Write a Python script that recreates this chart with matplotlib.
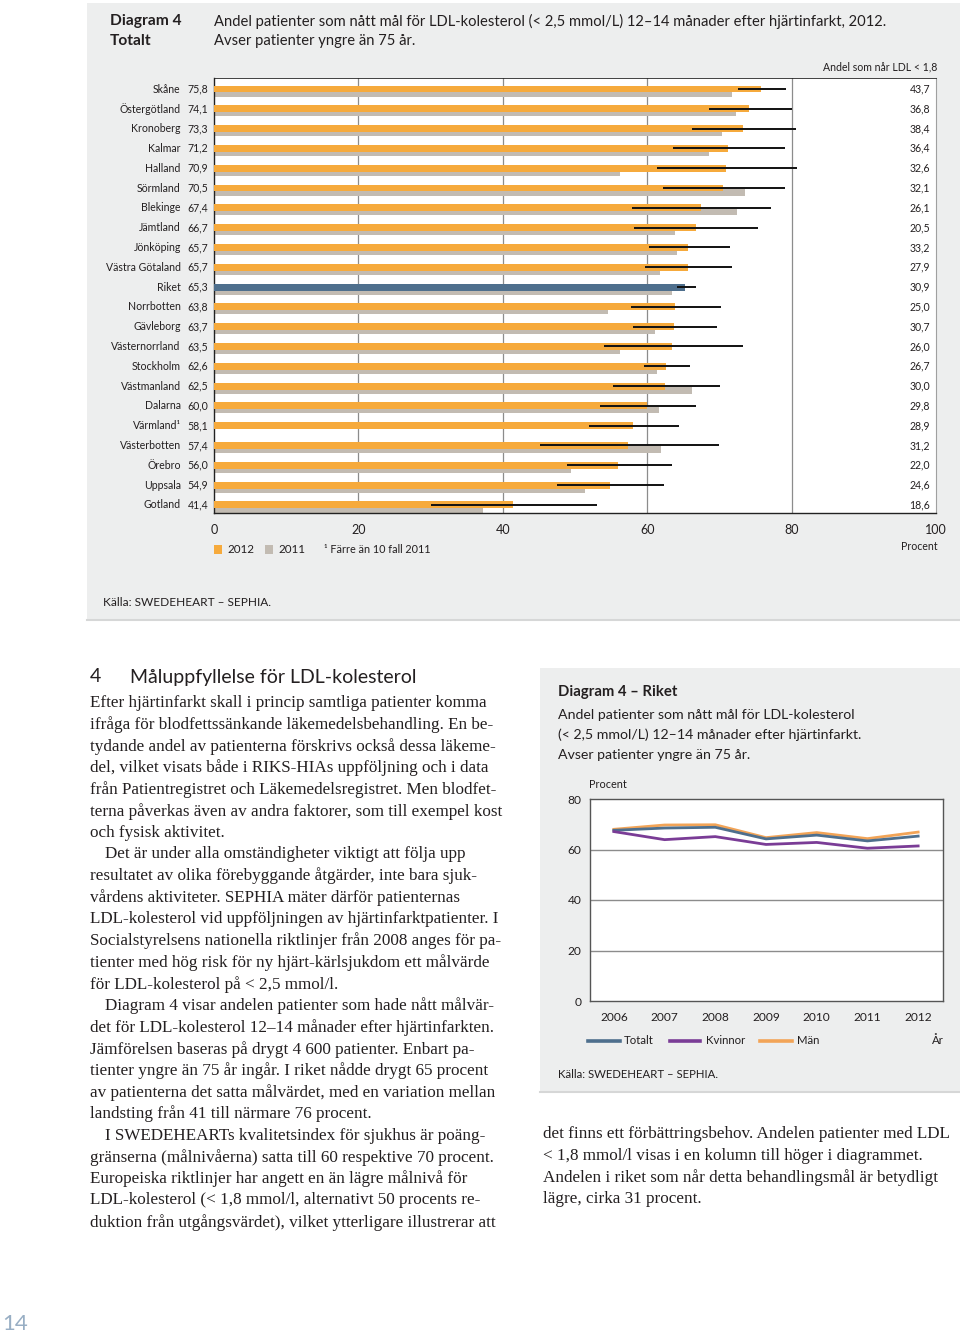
import matplotlib
matplotlib.use('Agg')
import matplotlib.pyplot as plt
from matplotlib.patches import Rectangle
from matplotlib.lines import Line2D
import numpy as np

W, H = 960, 1339

# --- data: diagram 4, totalt (2012 vs 2011) ---
regions = ['Skåne', 'Östergötland', 'Kronoberg', 'Kalmar', 'Halland', 'Sörmland',
           'Blekinge', 'Jämtland', 'Jönköping', 'Västra Götaland', 'Riket',
           'Norrbotten', 'Gävleborg', 'Västernorrland', 'Stockholm', 'Västmanland',
           'Dalarna', 'Värmland¹', 'Västerbotten', 'Örebro', 'Uppsala', 'Gotland']
v2012 = [75.8, 74.1, 73.3, 71.2, 70.9, 70.5, 67.4, 66.7, 65.7, 65.7, 65.3,
         63.8, 63.7, 63.5, 62.6, 62.5, 60.0, 58.1, 57.4, 56.0, 54.9, 41.4]
v2011 = [71.8, 72.3, 70.4, 68.6, 56.2, 73.5, 72.5, 63.8, 64.1, 61.8, 63.4,
         54.6, 61.1, 56.3, 61.3, 66.2, 61.6, np.nan, 61.9, 49.4, 51.4, 37.3]
ci_low = [72.6, 68.5, 66.2, 63.6, 61.4, 62.2, 57.9, 58.2, 60.2, 59.7, 64.1,
          57.7, 58.0, 54.0, 59.6, 55.2, 53.5, 52.0, 45.1, 48.9, 47.5, 30.0]
ci_high = [79.2, 80.0, 80.6, 79.1, 80.7, 79.1, 77.1, 75.3, 71.4, 71.8, 66.8,
           70.2, 69.6, 73.3, 65.9, 70.1, 66.7, 64.4, 69.9, 63.4, 62.3, 53.1]
ldl18 = [43.7, 36.8, 38.4, 36.4, 32.6, 32.1, 26.1, 20.5, 33.2, 27.9, 30.9,
         25.0, 30.7, 26.0, 26.7, 30.0, 29.8, 28.9, 31.2, 22.0, 24.6, 18.6]

# --- data: diagram 4, riket over time ---
years = [2006, 2007, 2008, 2009, 2010, 2011, 2012]
totalt = [67.6, 68.5, 68.8, 64.2, 65.7, 63.4, 65.3]
kvinnor = [67.1, 63.9, 65.1, 62.0, 62.8, 60.5, 61.4]
man = [68.0, 69.7, 69.8, 64.7, 66.7, 64.3, 66.9]

ORANGE = '#F6AA3C'
GRAY = '#C2BBB2'
BLUE = '#4E6F8D'
PURPLE = '#7A3C96'
LORANGE = '#F2A457'
PANEL = '#EDEEEE'
INK = '#231F20'
SANS = 'Lato'
SERIF = 'Liberation Serif'

fig = plt.figure(figsize=(W / 100, H / 100), dpi=100)
fig.patch.set_facecolor('white')


def fx(x):
    return x / W


def fy(y):
    return 1 - y / H


def ftext(x, y, s, **kw):
    kw.setdefault('color', INK)
    kw.setdefault('va', 'center')
    return fig.text(fx(x), fy(y), s, **kw)


def frect(x0, y0, x1, y1, color, **kw):
    fig.add_artist(Rectangle((fx(x0), fy(y1)), (x1 - x0) / W, (y1 - y0) / H,
                             transform=fig.transFigure, facecolor=color,
                             edgecolor='none', **kw))


def comma(v):
    return f'{v:.1f}'.replace('.', ',')


# ================= panel 1: bar chart =================
frect(87, 3, 960, 620, PANEL, zorder=0)
fig.add_artist(Line2D([fx(87), fx(960)], [fy(620), fy(620)], transform=fig.transFigure,
                      color='#D6D7D7', lw=1.5))

ftext(110, 21, 'Diagram 4', fontsize=11.2, fontweight='bold', family=SANS)
ftext(110, 41, 'Totalt', fontsize=11.2, fontweight='bold', family=SANS)
ftext(214, 21, 'Andel patienter som nått mål för LDL-kolesterol (< 2,5 mmol/L) '
      '12–14 månader efter hjärtinfarkt, 2012.', fontsize=10.6, family=SANS)
ftext(214, 41, 'Avser patienter yngre än 75 år.', fontsize=10.6, family=SANS)

ax = fig.add_axes([fx(214), fy(513), (936 - 214) / W, (513 - 78) / H])
ax.set_facecolor('white')
rows = np.arange(len(regions))
ax.barh(rows + 0.21, v2011, height=0.35, color=GRAY, zorder=2)
bar_colors = [BLUE if r == 'Riket' else ORANGE for r in regions]
ax.barh(rows, v2012, height=0.35, color=bar_colors, zorder=3)
ax.hlines(rows, ci_low, ci_high, color='#111111', lw=1.4, zorder=4)

for x in [20, 40, 60, 80]:
    ax.axvline(x, color='#8C8C8C', lw=0.9, zorder=1)

ax.set_xlim(0, 100)
ax.set_ylim(21.41, -0.556)
ax.set_yticks([])
ax.set_xticks([0, 20, 40, 60, 80, 100])
ax.tick_params(axis='x', length=0, pad=8, labelsize=9, labelcolor=INK)
for lab in ax.get_xticklabels():
    lab.set_family(SANS)
for s in ['left', 'bottom', 'top']:
    ax.spines[s].set_color('#222222')
    ax.spines[s].set_linewidth(1.0)
ax.spines['top'].set_linewidth(0.6)
ax.spines['right'].set_color('#A0A0A0')
ax.spines['right'].set_linewidth(0.8)

for i, name in enumerate(regions):
    ax.text(-4.6, i, name, ha='right', va='center', fontsize=7.6, family=SANS,
            color=INK, clip_on=False)
    ax.text(-0.8, i, comma(v2012[i]), ha='right', va='center', fontsize=7.6,
            family=SANS, color=INK, clip_on=False)
    ax.text(99.2, i, comma(ldl18[i]), ha='right', va='center', fontsize=7.6,
            family=SANS, color=INK)

ftext(937, 67, 'Andel som når LDL < 1,8', ha='right', fontsize=7.6, family=SANS)
ftext(938, 546, 'Procent', ha='right', fontsize=7.6, family=SANS)

frect(214, 545, 222, 554, ORANGE)
ftext(227, 549.5, '2012', fontsize=8.4, family=SANS)
frect(265, 545, 273, 554, GRAY)
ftext(278, 549.5, '2011', fontsize=8.4, family=SANS)
ftext(324, 549.5, '¹ Färre än 10 fall 2011', fontsize=7.8, family=SANS)

ftext(103, 602, 'Källa: SWEDEHEART – SEPHIA.', fontsize=8.6, family=SANS)

# ================= panel 2: line chart =================
frect(540, 668, 960, 1092, PANEL, zorder=0)
fig.add_artist(Line2D([fx(540), fx(960)], [fy(1092), fy(1092)], transform=fig.transFigure,
                      color='#D6D7D7', lw=1.5))

ftext(558, 692, 'Diagram 4 – Riket', fontsize=10.7, fontweight='bold', family=SANS)
ftext(558, 715, 'Andel patienter som nått mål för LDL-kolesterol', fontsize=10.2, family=SANS)
ftext(558, 735, '(< 2,5 mmol/L) 12–14 månader efter hjärtinfarkt.', fontsize=10.2, family=SANS)
ftext(558, 755, 'Avser patienter yngre än 75 år.', fontsize=10.2, family=SANS)
ftext(589, 784, 'Procent', fontsize=7.8, family=SANS)

ax2 = fig.add_axes([fx(590), fy(1001), (943 - 590) / W, (1001 - 799) / H])
ax2.set_facecolor('white')
ax2.plot(years, man, color=LORANGE, lw=2.0, zorder=3)
ax2.plot(years, totalt, color=BLUE, lw=2.0, zorder=4)
ax2.plot(years, kvinnor, color=PURPLE, lw=2.0, zorder=5)
for y in [20, 40, 60]:
    ax2.axhline(y, color='#8C8C8C', lw=1.0, zorder=1)
ax2.set_xlim(2005.53, 2012.49)
ax2.set_ylim(0, 80)
ax2.set_xticks(years)
ax2.set_yticks([0, 20, 40, 60, 80])
ax2.tick_params(length=0, labelsize=8.6, labelcolor=INK)
ax2.tick_params(axis='x', pad=8)
ax2.tick_params(axis='y', pad=6)
for lab in ax2.get_xticklabels() + ax2.get_yticklabels():
    lab.set_family(SANS)
for s in ax2.spines.values():
    s.set_color('#555555')
    s.set_linewidth(1.0)

legend_items = [(588, 620, 624, 'Totalt', BLUE), (670, 700, 706, 'Kvinnor', PURPLE),
                (760, 792, 797, 'Män', LORANGE)]
for x0, x1, xt, label, col in legend_items:
    fig.add_artist(Line2D([fx(x0), fx(x1)], [fy(1041), fy(1041)],
                          transform=fig.transFigure, color=col, lw=2.6))
    ftext(xt, 1041, label, fontsize=8.2, family=SANS)
ftext(944, 1041, 'År', ha='right', fontsize=8.2, family=SANS)
ftext(558, 1075, 'Källa: SWEDEHEART – SEPHIA.', fontsize=8.2, family=SANS)

# ================= body text =================
ftext(90, 677, '4', fontsize=14, family=SANS)
ftext(130, 677, 'Måluppfyllelse för LDL-kolesterol', fontsize=14, family=SANS)

left_lines = [
    (0, 'Efter hjärtinfarkt skall i princip samtliga patienter komma'),
    (0, 'ifråga för blodfettssänkande läkemedelsbehandling. En be-'),
    (0, 'tydande andel av patienterna förskrivs också dessa läkeme-'),
    (0, 'del, vilket visats både i RIKS-HIAs uppföljning och i data'),
    (0, 'från Patientregistret och Läkemedelsregistret. Men blodfet-'),
    (0, 'terna påverkas även av andra faktorer, som till exempel kost'),
    (0, 'och fysisk aktivitet.'),
    (1, 'Det är under alla omständigheter viktigt att följa upp'),
    (0, 'resultatet av olika förebyggande åtgärder, inte bara sjuk-'),
    (0, 'vårdens aktiviteter. SEPHIA mäter därför patienternas'),
    (0, 'LDL-kolesterol vid uppföljningen av hjärtinfarktpatienter. I'),
    (0, 'Socialstyrelsens nationella riktlinjer från 2008 anges för pa-'),
    (0, 'tienter med hög risk för ny hjärt-kärlsjukdom ett målvärde'),
    (0, 'för LDL-kolesterol på < 2,5 mmol/l.'),
    (1, 'Diagram 4 visar andelen patienter som hade nått målvär-'),
    (0, 'det för LDL-kolesterol 12–14 månader efter hjärtinfarkten.'),
    (0, 'Jämförelsen baseras på drygt 4 600 patienter. Enbart pa-'),
    (0, 'tienter yngre än 75 år ingår. I riket nådde drygt 65 procent'),
    (0, 'av patienterna det satta målvärdet, med en variation mellan'),
    (0, 'landsting från 41 till närmare 76 procent.'),
    (1, 'I SWEDEHEARTs kvalitetsindex för sjukhus är poäng-'),
    (0, 'gränserna (målnivåerna) satta till 60 respektive 70 procent.'),
    (0, 'Europeiska riktlinjer har angett en än lägre målnivå för'),
    (0, 'LDL-kolesterol (< 1,8 mmol/l, alternativt 50 procents re-'),
    (0, 'duktion från utgångsvärdet), vilket ytterligare illustrerar att'),
]
for k, (indent, line) in enumerate(left_lines):
    ftext(90 + 15 * indent, 703 + 21.63 * k, line, fontsize=12.3, family=SERIF)

right_lines = [
    'det finns ett förbättringsbehov. Andelen patienter med LDL',
    '< 1,8 mmol/l visas i en kolumn till höger i diagrammet.',
    'Andelen i riket som når detta behandlingsmål är betydligt',
    'lägre, cirka 31 procent.',
]
for k, line in enumerate(right_lines):
    ftext(543, 1134 + 21.63 * k, line, fontsize=12.3, family=SERIF)

ftext(2, 1324, '14', fontsize=16, family=SANS, color='#98AEC4')

fig.savefig('out.png', dpi=100)
